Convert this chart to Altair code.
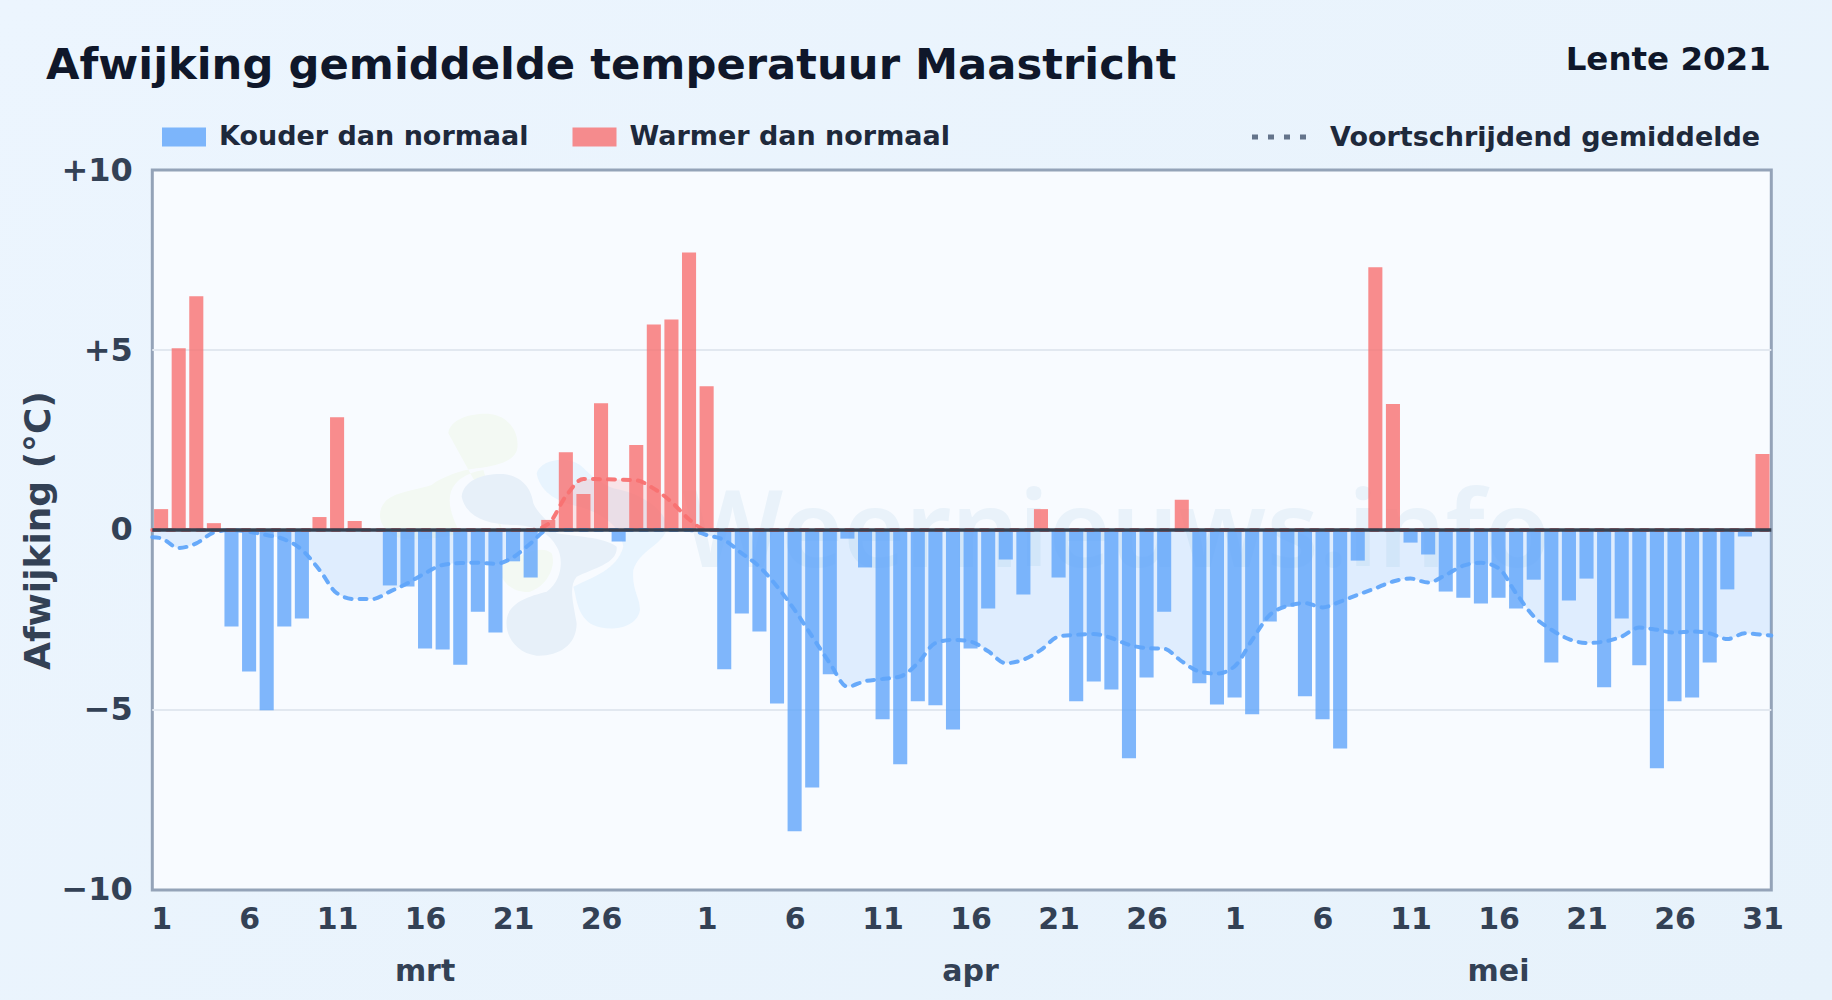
import altair as alt
import pandas as pd

# ---- data -----------------------------------------------------------------------
deviation = [
    0.58, 5.05, 6.49, 0.19, -2.68, -3.93, -5.01, -2.68, -2.46, 0.36,
    3.13, 0.25, 0.0, -1.54, -1.57, -3.29, -3.32, -3.74, -2.27, -2.85,
    -0.87, -1.32, 0.28, 2.16, 1.0, 3.52, -0.32, 2.36, 5.71, 5.85, 7.71,
    3.99, -3.87, -2.32, -2.82, -4.82, -8.37, -7.15, -4.01, -0.24, -1.04,
    -5.26, -6.51, -4.76, -4.87, -5.54, -3.29, -2.18, -0.82, -1.79, 0.58,
    -1.32, -4.76, -4.21, -4.43, -6.34, -4.10, -2.27, 0.84, -4.26, -4.85,
    -4.65, -5.12, -2.54, -2.13, -4.62, -5.26, -6.07, -0.85, 7.30, 3.50,
    -0.35, -0.68, -1.71, -1.88, -2.04, -1.88, -2.18, -1.38, -3.68, -1.96,
    -1.35, -4.37, -2.46, -3.76, -6.62, -4.76, -4.65, -3.68, -1.65, -0.18, 2.11,
]
moving_avg = [
    -0.23, -0.50, -0.37, -0.07, 0.0, -0.05, -0.14, -0.26, -0.55, -1.11,
    -1.76, -1.92, -1.92, -1.71, -1.48, -1.20, -0.97, -0.92, -0.91, -0.94,
    -0.76, -0.37, 0.17, 0.94, 1.42, 1.41, 1.40, 1.38, 1.15, 0.78, 0.30,
    -0.14, -0.28, -0.65, -1.02, -1.57, -2.22, -2.96, -3.70, -4.35, -4.20,
    -4.14, -4.07, -3.70, -3.14, -3.05, -3.10, -3.37, -3.70, -3.60, -3.33,
    -2.96, -2.91, -2.89, -3.00, -3.19, -3.28, -3.30, -3.65, -3.93, -3.99,
    -3.79, -3.05, -2.36, -2.11, -2.03, -2.15, -1.99, -1.80, -1.62, -1.43,
    -1.35, -1.46, -1.25, -0.99, -0.91, -1.06, -1.76, -2.40, -2.77, -3.03,
    -3.14, -3.10, -2.96, -2.71, -2.77, -2.85, -2.82, -2.87, -3.03, -2.87, -2.91,
]
avg_left_edge = -0.2
avg_right_edge = -2.93
x_ticks = [1, 6, 11, 16, 21, 26, 32, 37, 42, 47, 52, 57, 62, 67, 72, 77, 82, 87, 92]
y_ticks = [-10, -5, 0, 5, 10]
grid_values = [-5, 5]
month_names = ["mrt", "apr", "mei"]
month_positions = [16, 47, 77]
categories = ["Kouder dan normaal", "Warmer dan normaal"]

FONT = "DejaVu Sans"
# plot area origin on the page: x 152.3, y 170
W, H = 1619, 720

df = pd.DataFrame({
    "dag": list(range(1, 93)),
    "afwijking": deviation,
})
df["cat"] = [categories[1] if v > 0 else categories[0] for v in deviation]

avg = pd.DataFrame({
    "dag": [0.5] + list(range(1, 93)) + [92.5],
    "gem": [avg_left_edge] + moving_avg + [avg_right_edge],
})
avg["gem_neg"] = avg["gem"].clip(upper=0)
avg["gem_pos"] = avg["gem"].clip(lower=0)

x_scale = alt.Scale(domain=[0.5, 92.5], nice=False, zero=False)
y_scale = alt.Scale(domain=[-10, 10], nice=False)
x_axis = alt.Axis(
    values=x_ticks, title=None, labelAngle=0, domain=False, ticks=False, grid=False,
    labelFontSize=30, labelFontWeight="bold", labelColor="#334155", labelFont=FONT,
    labelPadding=15, labelOverlap=False, labelBaseline="top", labelFlush=False,
    labelExpr="datum.value <= 31 ? datum.value : datum.value <= 61 ? datum.value - 31 : datum.value - 61",
)
y_axis = alt.Axis(
    values=y_ticks, title="Afwijking (°C)", domain=False, ticks=False, grid=False,
    labelFontSize=32, labelFontWeight="bold", labelColor="#334155", labelFont=FONT,
    labelPadding=20, labelOverlap=False,
    labelExpr="datum.value > 0 ? '+' + datum.value : datum.value < 0 ? '\u2212' + abs(datum.value) : '0'",
    titleFontSize=36, titleFontWeight="bold", titleColor="#334155", titleFont=FONT,
    titleX=-113.5, titleY=360, titleAlign="center", titleBaseline="middle", titleAngle=270,
)


def blob(path, color):
    return alt.Chart(pd.DataFrame({"a": [0]})).mark_point(
        filled=True, shape=path, size=0.4444, color=color, opacity=1, strokeWidth=0
    ).encode(x=alt.value(207.7), y=alt.value(220))


def label(text, x, y, size, color, align="left", font=FONT, weight="bold"):
    return alt.Chart(pd.DataFrame({"t": [text]})).mark_text(
        align=align, baseline="alphabetic", fontSize=size, fontWeight=weight, font=font, color=color
    ).encode(text="t:N", x=alt.value(x), y=alt.value(y))


blob_green = blob(
    "M265,130 C270,85 340,68 390,72 C445,78 478,125 472,175 C465,215 410,228 350,235 "
    "C300,240 240,265 215,285 C170,300 110,305 80,330 C50,360 55,400 85,425 C120,460 220,450 300,430 "
    "C280,390 265,350 270,320 C275,280 310,250 370,240 L430,430 Z "
    "M430,520 C480,500 540,460 575,490 C590,530 560,590 510,605 C470,610 440,590 425,560 Z",
    "#f3f9f3",
)
blob_grey = blob(
    "M305,320 C310,270 370,250 430,252 C490,258 515,300 520,340 C535,375 570,395 590,430 "
    "C640,440 730,440 770,470 C775,520 700,535 650,560 C625,590 640,640 650,700 C650,770 590,800 530,797 "
    "C470,790 435,740 440,690 C445,640 500,620 560,605 C610,570 610,500 590,470 C570,430 530,410 470,405 "
    "C400,405 320,390 305,320 Z",
    "#e7f0f9",
)
blob_light = blob(
    "M530,250 C540,210 620,195 660,225 C690,250 700,270 760,295 C850,310 930,370 920,420 "
    "C900,470 840,480 820,540 C815,600 840,620 840,660 C830,720 740,725 700,705 C650,680 650,620 640,590 "
    "C700,560 770,540 790,470 C780,400 720,370 660,350 C600,340 540,310 530,250 Z",
    "#e8f4fe",
)
watermark = label("Weernieuws.info", 964, 397, 106, "#e9f2fa", align="center", font="Noto Sans", weight=600)

grid = alt.Chart(pd.DataFrame({"g": grid_values})).mark_rule(color="#e2e8f0", strokeWidth=2).encode(
    y=alt.Y("g:Q", scale=y_scale, axis=y_axis)
)

base = alt.Chart(avg)
x_avg = alt.X("dag:Q", scale=x_scale, axis=x_axis)
area_neg = base.mark_area(color="#60a5fa", opacity=0.16, interpolate="monotone").encode(
    x=x_avg, y=alt.Y("gem_neg:Q", scale=y_scale, axis=y_axis), y2=alt.datum(0)
)
area_pos = base.mark_area(color="#f87171", opacity=0.16, interpolate="monotone").encode(
    x=x_avg, y=alt.Y("gem_pos:Q", scale=y_scale, axis=y_axis), y2=alt.datum(0)
)
bars = alt.Chart(df).transform_calculate(
    left="datum.dag - 0.4", right="datum.dag + 0.4"
).mark_bar(opacity=0.8).encode(
    x=alt.X("left:Q", scale=x_scale, axis=x_axis),
    x2="right:Q",
    y=alt.Y("afwijking:Q", stack=None, scale=y_scale, axis=y_axis),
    y2=alt.datum(0),
    color=alt.Color(
        "cat:N",
        scale=alt.Scale(domain=categories, range=["#60a5fa", "#f87171"]),
        legend=alt.Legend(
            title=None, orient="none", legendX=9.7, legendY=-55, direction="horizontal", columns=2,
            symbolType="M-1,-0.43H1V0.43H-1Z", symbolSize=1936, symbolStrokeWidth=0, symbolOpacity=0.8,
            labelFont=FONT, labelFontSize=27, labelFontWeight="bold", labelColor="#1e293b",
            labelOffset=13, columnPadding=43.5, labelLimit=500,
        ),
    ),
)
line_neg = base.mark_line(
    color="#60a5fa", strokeWidth=4, strokeDash=[7, 8], strokeCap="round", interpolate="monotone", opacity=0.95
).encode(x=x_avg, y=alt.Y("gem_neg:Q", scale=y_scale, axis=y_axis))
line_pos = base.mark_line(
    color="#f87171", strokeWidth=4, strokeDash=[7, 8], strokeCap="round", interpolate="monotone", opacity=0.95
).encode(x=x_avg, y=alt.Y("gem_pos:Q", scale=y_scale, axis=y_axis))
zero = alt.Chart(pd.DataFrame({"z": [0]})).mark_rule(color="#374151", strokeWidth=3.6).encode(
    y=alt.Y("z:Q", scale=y_scale, axis=y_axis)
)
months = alt.Chart(pd.DataFrame({"m": month_names, "p": month_positions})).mark_text(
    font=FONT, fontSize=30, fontWeight="bold", color="#334155", baseline="alphabetic", align="center"
).encode(
    text="m:N",
    x=alt.X("p:Q", scale=x_scale, axis=x_axis),
    y=alt.value(811),
)
title = label("Afwijking gemiddelde temperatuur Maastricht", -106.3, -91, 43.3, "#0f172a")
subtitle = label("Lente 2021", 1618.5, -100, 32.5, "#0f172a", align="right")
legend_line = alt.Chart(pd.DataFrame({"a": [0]})).mark_rule(
    color="#64748b", strokeWidth=5, strokeDash=[6, 10]
).encode(x=alt.value(1099.7), x2=alt.value(1154.7), y=alt.value(-33))
legend_line_text = label("Voortschrijdend gemiddelde", 1177.7, -24, 27, "#1e293b")

chart = alt.layer(
    blob_green, blob_grey, blob_light, watermark, grid, area_neg, area_pos,
    bars, line_neg, line_pos, zero, months, title, subtitle, legend_line, legend_line_text,
).properties(
    width=W,
    height=H,
    background="transparent",
    autosize=alt.AutoSizeParams(type="none"),
    padding={"left": 144.3, "top": 162, "right": 41, "bottom": 100},
).configure_view(
    fill="#f8fbff", stroke="#94a3b8", strokeWidth=3
)

chart.save(
    "out.html",
    embed_options={
        "renderer": "svg",
        "actions": False,
        "defaultStyle": "html,body{background:linear-gradient(135deg,#ecf5fe,#e7f2fb);background-attachment:fixed;}",
    },
)
